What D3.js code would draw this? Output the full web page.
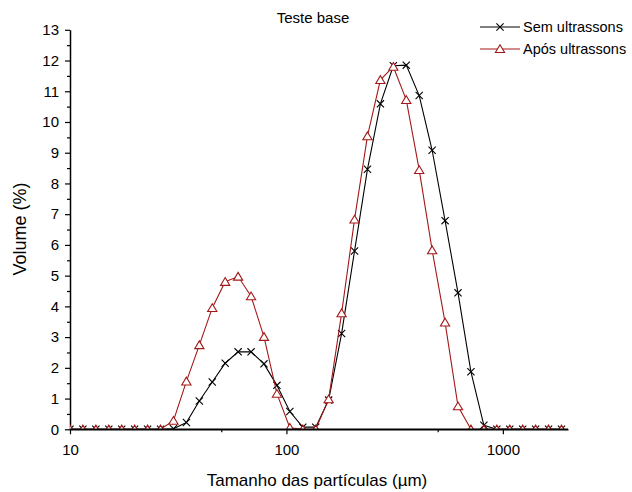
<!DOCTYPE html>
<html>
<head>
<meta charset="utf-8">
<script src="https://cdn.jsdelivr.net/npm/d3@7"></script>
<style>
  body { margin: 0; background: #fff; }
  svg { display: block; font-family: "Liberation Sans", Arial, sans-serif; }
</style>
</head>
<body>
<svg id="chart" width="632" height="492"></svg>
<script>
// particle size classes (µm)
const sizes = [10.0, 11.47, 13.17, 15.11, 17.34, 19.89, 22.83, 26.2, 30.07, 34.5,
  39.59, 45.43, 52.13, 59.82, 68.64, 78.77, 90.39, 103.7, 119.0, 136.6,
  156.7, 179.9, 206.4, 236.8, 271.8, 311.9, 357.9, 410.7, 471.3, 540.8,
  620.6, 712.2, 817.2, 937.8, 1076, 1235, 1417, 1626, 1866];

const semUltrassons = [0, 0, 0, 0, 0, 0, 0, 0, 0.02, 0.22,
  0.92, 1.54, 2.15, 2.52, 2.52, 2.13, 1.43, 0.58, 0.07, 0.07,
  0.95, 3.12, 5.8, 8.46, 10.59, 11.83, 11.85, 10.86, 9.08, 6.79,
  4.44, 1.87, 0.13, 0, 0, 0, 0, 0, 0];

const aposUltrassons = [0, 0, 0, 0, 0, 0, 0, 0, 0.28, 1.56,
  2.74, 3.95, 4.8, 4.97, 4.33, 3.01, 1.16, 0.05, 0, 0,
  0.98, 3.78, 6.83, 9.54, 11.37, 11.8, 10.72, 8.44, 5.83, 3.48,
  0.75, 0, 0, 0, 0, 0, 0, 0, 0];

const xMajor = [10, 100, 1000];
const xMinor = [50, 500];
const yMajor = d3.range(0, 14, 1);
const yMinor = d3.range(0.5, 13, 1);

const RED = "#a31818";

const svg = d3.select("#chart");
const x = d3.scaleLog().domain([10, 2000]).range([70, 568]);
const y = d3.scaleLinear().domain([0, 13]).range([429.3, 29.8]);

svg.append("clipPath").attr("id", "plotclip")
  .append("rect")
  .attr("x", x.range()[0]).attr("y", y.range()[1])
  .attr("width", x.range()[1] - x.range()[0])
  .attr("height", y.range()[0] - y.range()[1]);

// axes
svg.append("g").attr("transform", `translate(0,${y(0)})`)
  .call(d3.axisBottom(x).tickValues(xMajor).tickFormat(d3.format("d")).tickSize(5).tickSizeOuter(0).tickPadding(10));
svg.append("g").attr("transform", `translate(0,${y(0)})`)
  .call(d3.axisBottom(x).tickValues(xMinor).tickFormat("").tickSize(3).tickSizeOuter(0))
  .select(".domain").remove();
svg.append("g").attr("transform", `translate(${x(10)},0)`)
  .call(d3.axisLeft(y).tickValues(yMajor).tickFormat(d3.format("d")).tickSize(5).tickSizeOuter(0).tickPadding(6));
svg.append("g").attr("transform", `translate(${x(10)},0)`)
  .call(d3.axisLeft(y).tickValues(yMinor).tickFormat("").tickSize(3).tickSizeOuter(0))
  .select(".domain").remove();

svg.selectAll(".domain").attr("stroke", "#000").attr("stroke-width", 1.5);
svg.selectAll(".tick line").attr("stroke", "#000").attr("stroke-width", 1.2);
svg.selectAll(".tick text").attr("font-size", 15).attr("fill", "#000")
  .attr("font-family", "'Liberation Sans', Arial, sans-serif");

// series
const line = d3.line().x(d => x(d[0])).y(d => y(d[1]));
const plot = svg.append("g").attr("clip-path", "url(#plotclip)");

function crossPath(cx, cy, r) {
  return `M${cx - r},${cy - r}L${cx + r},${cy + r}M${cx - r},${cy + r}L${cx + r},${cy - r}`;
}
function triPath(cx, cy, r) {
  return `M${cx},${cy - r}L${cx + r * 1.1},${cy + r * 0.85}L${cx - r * 1.1},${cy + r * 0.85}Z`;
}

const black = sizes.map((s, i) => [s, semUltrassons[i]]);
const red = sizes.map((s, i) => [s, aposUltrassons[i]]);

plot.append("path").datum(black).attr("d", line)
  .attr("fill", "none").attr("stroke", "#000").attr("stroke-width", 1.1);
plot.append("g").selectAll("path").data(black).enter().append("path")
  .attr("d", d => crossPath(x(d[0]), y(d[1]), 3.6))
  .attr("stroke", "#000").attr("stroke-width", 1.1).attr("fill", "none");

plot.append("path").datum(red).attr("d", line)
  .attr("fill", "none").attr("stroke", RED).attr("stroke-width", 1.1);
plot.append("g").selectAll("path").data(red).enter().append("path")
  .attr("d", d => triPath(x(d[0]), y(d[1]), 4.2))
  .attr("stroke", RED).attr("stroke-width", 1.1).attr("fill", "#fff");

// redraw baseline over clipped markers
svg.append("line").attr("x1", x(10)).attr("x2", x(2000)).attr("y1", y(0)).attr("y2", y(0))
  .attr("stroke", "#000").attr("stroke-width", 1.5);

// titles
svg.append("text").attr("x", 313).attr("y", 23).attr("text-anchor", "middle")
  .attr("font-size", 15).text("Teste base");
svg.append("text").attr("x", 317).attr("y", 486).attr("text-anchor", "middle")
  .attr("font-size", 17).text("Tamanho das partículas (µm)");
svg.append("text").attr("transform", "translate(26,229) rotate(-90)").attr("text-anchor", "middle")
  .attr("font-size", 18).text("Volume (%)");

// legend
const legend = [
  { label: "Sem ultrassons", color: "#000", mark: crossPath, r: 3.6, fill: "none" },
  { label: "Após ultrassons", color: RED, mark: triPath, r: 4.2, fill: "#fff" }
];
legend.forEach((d, i) => {
  const ly = 27 + i * 22;
  svg.append("line").attr("x1", 480).attr("x2", 520).attr("y1", ly).attr("y2", ly)
    .attr("stroke", d.color).attr("stroke-width", 1.1);
  svg.append("path").attr("d", d.mark(500, ly, d.r))
    .attr("stroke", d.color).attr("stroke-width", 1.1).attr("fill", d.fill);
  svg.append("text").attr("x", 523).attr("y", ly + 5).attr("font-size", 14.5).text(d.label);
});
</script>
</body>
</html>
